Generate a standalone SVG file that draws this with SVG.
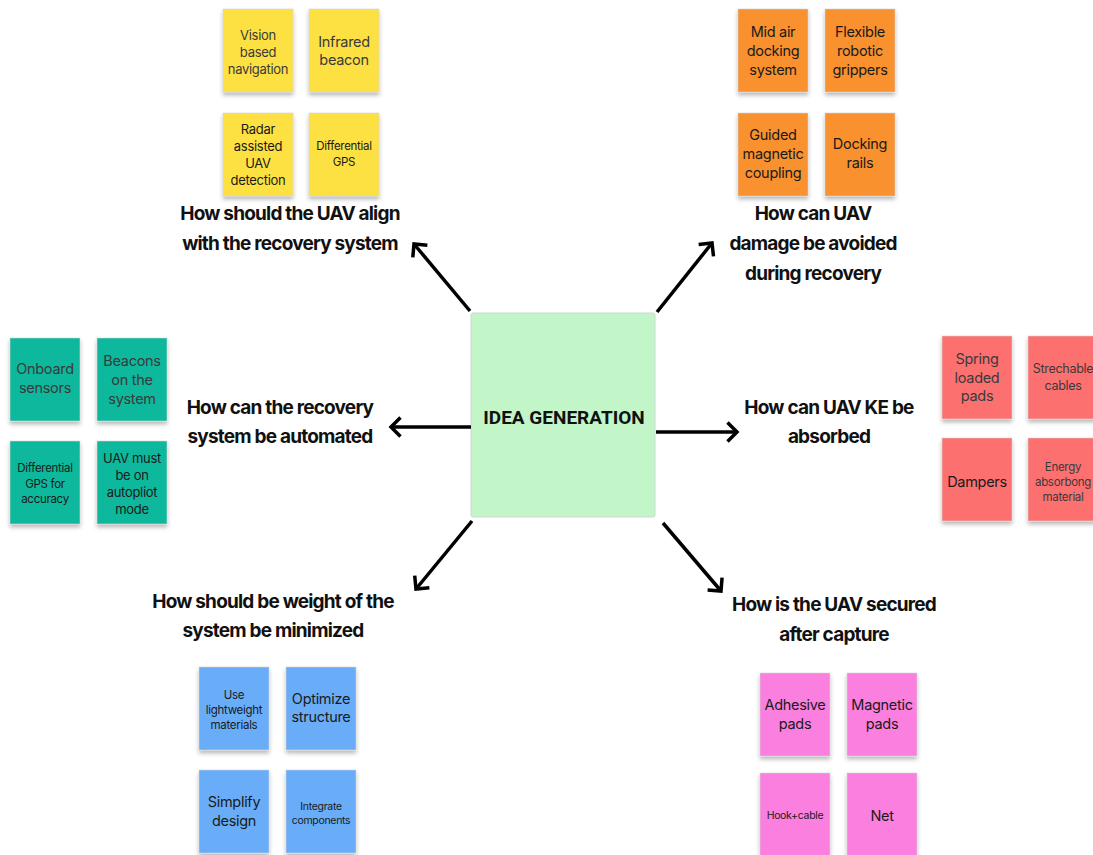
<svg xmlns="http://www.w3.org/2000/svg" width="1093" height="855" viewBox="0 0 1093 855">
  <defs>
    <filter id="noteShadow" x="-20%" y="-20%" width="140%" height="150%">
      <feDropShadow dx="0" dy="3" stdDeviation="2" flood-color="#000" flood-opacity="0.28"/>
    </filter>
    <marker id="chevron" markerUnits="userSpaceOnUse" markerWidth="30" markerHeight="30" refX="0" refY="0" orient="auto" overflow="visible">
      <path d="M-9.5,-9.5 L0,0 L-9.5,9.5" fill="none" stroke="#000" stroke-width="3.5" stroke-linejoin="miter"/>
    </marker>
    <style>
      .note { stroke: #d4d4d4; stroke-width: 0.6; filter: url(#noteShadow); }
      .yellow { fill: #fde143; }
      .orange { fill: #f8912f; }
      .teal { fill: #0bb89c; }
      .red { fill: #fd6f6f; }
      .blue { fill: #69adf9; }
      .pink { fill: #fb7fde; }
      .nt { font-family: Inter, "Liberation Sans", sans-serif; text-anchor: middle; fill: #1a1a1a; letter-spacing: -0.3px; }
      .dim { fill: #3a3a3a; }
      .q { font-family: Inter, "Liberation Sans", sans-serif; font-weight: 700; font-size: 19px; letter-spacing: -0.8px; text-anchor: middle; fill: #111; }
      .conn { fill: none; stroke: #000; stroke-width: 3.5; marker-end: url(#chevron); }
    </style>
  </defs>

  <rect width="1093" height="855" fill="#ffffff"/>

  <!-- central node -->
  <g id="idea-generation">
    <rect x="471" y="313" width="184" height="204" rx="2" fill="#c2f5c8" stroke="#cfd8d0" stroke-width="1"/>
    <text x="564" y="424" font-family="Roboto, 'Liberation Sans', sans-serif" font-weight="700" font-size="19" text-anchor="middle" fill="#111">IDEA GENERATION</text>
  </g>

  <!-- connectors -->
  <g id="connectors">
    <path class="conn" d="M470,311 L414,244"/>
    <path class="conn" d="M657,312 L712,243"/>
    <path class="conn" d="M471,427 L391,427"/>
    <path class="conn" d="M656,432 L737,432"/>
    <path class="conn" d="M472,521 L416,589"/>
    <path class="conn" d="M663,523 L721,591"/>
  </g>

  <!-- alignment branch -->
  <g id="q-align">
    <text class="q" x="290" y="220">How should the UAV align</text>
    <text class="q" x="290" y="250">with the recovery system</text>
  </g>
  <g id="n-vision">
    <rect class="note yellow" x="223" y="9" width="70" height="83"/>
    <text class="nt dim" x="258" font-size="13"><tspan x="258" y="40">Vision</tspan><tspan x="258" y="57">based</tspan><tspan x="258" y="74">navigation</tspan></text>
  </g>
  <g id="n-infrared">
    <rect class="note yellow" x="309" y="9" width="70" height="83"/>
    <text class="nt dim" x="344" font-size="14.5"><tspan x="344" y="47">Infrared</tspan><tspan x="344" y="65">beacon</tspan></text>
  </g>
  <g id="n-radar">
    <rect class="note yellow" x="223" y="113" width="70" height="83"/>
    <text class="nt" x="258" font-size="13"><tspan x="258" y="134">Radar</tspan><tspan x="258" y="151">assisted</tspan><tspan x="258" y="168">UAV</tspan><tspan x="258" y="185">detection</tspan></text>
  </g>
  <g id="n-dgps">
    <rect class="note yellow" x="309" y="113" width="70" height="83"/>
    <text class="nt" x="344" font-size="11.5"><tspan x="344" y="150">Differential</tspan><tspan x="344" y="166">GPS</tspan></text>
  </g>

  <!-- damage branch -->
  <g id="q-damage">
    <text class="q" x="813" y="220">How can UAV</text>
    <text class="q" x="813" y="250">damage be avoided</text>
    <text class="q" x="813" y="280">during recovery</text>
  </g>
  <g id="n-midair">
    <rect class="note orange" x="738" y="9" width="70" height="83"/>
    <text class="nt" x="773" font-size="14.5"><tspan x="773" y="37">Mid air</tspan><tspan x="773" y="56">docking</tspan><tspan x="773" y="75">system</tspan></text>
  </g>
  <g id="n-grippers">
    <rect class="note orange" x="825" y="9" width="70" height="83"/>
    <text class="nt" x="860" font-size="14.5"><tspan x="860" y="37">Flexible</tspan><tspan x="860" y="56">robotic</tspan><tspan x="860" y="75">grippers</tspan></text>
  </g>
  <g id="n-magnetic-coupling">
    <rect class="note orange" x="738" y="113" width="70" height="83"/>
    <text class="nt" x="773" font-size="14.5"><tspan x="773" y="140">Guided</tspan><tspan x="773" y="159">magnetic</tspan><tspan x="773" y="178">coupling</tspan></text>
  </g>
  <g id="n-rails">
    <rect class="note orange" x="825" y="113" width="70" height="83"/>
    <text class="nt" x="860" font-size="14.5"><tspan x="860" y="149">Docking</tspan><tspan x="860" y="168">rails</tspan></text>
  </g>

  <!-- automation branch -->
  <g id="q-automation">
    <text class="q" x="280" y="414">How can the recovery</text>
    <text class="q" x="280" y="443">system be automated</text>
  </g>
  <g id="n-onboard">
    <rect class="note teal" x="10" y="338" width="70" height="83"/>
    <text class="nt dim" x="45" font-size="14.5"><tspan x="45" y="374">Onboard</tspan><tspan x="45" y="393">sensors</tspan></text>
  </g>
  <g id="n-beacons">
    <rect class="note teal" x="97" y="338" width="70" height="83"/>
    <text class="nt dim" x="132" font-size="14.5"><tspan x="132" y="366">Beacons</tspan><tspan x="132" y="385">on the</tspan><tspan x="132" y="404">system</tspan></text>
  </g>
  <g id="n-dgps-accuracy">
    <rect class="note teal" x="10" y="441" width="70" height="83"/>
    <text class="nt" x="45" font-size="11.5"><tspan x="45" y="472">Differential</tspan><tspan x="45" y="488">GPS for</tspan><tspan x="45" y="503">accuracy</tspan></text>
  </g>
  <g id="n-autopilot">
    <rect class="note teal" x="97" y="441" width="70" height="83"/>
    <text class="nt" x="132" font-size="13"><tspan x="132" y="463">UAV must</tspan><tspan x="132" y="480">be on</tspan><tspan x="132" y="497">autopliot</tspan><tspan x="132" y="514">mode</tspan></text>
  </g>

  <!-- energy absorption branch -->
  <g id="q-energy">
    <text class="q" x="829" y="414">How can UAV KE be</text>
    <text class="q" x="829" y="443">absorbed</text>
  </g>
  <g id="n-spring">
    <rect class="note red" x="942" y="336" width="70" height="83"/>
    <text class="nt dim" x="977" font-size="14.5"><tspan x="977" y="364">Spring</tspan><tspan x="977" y="383">loaded</tspan><tspan x="977" y="401">pads</tspan></text>
  </g>
  <g id="n-cables">
    <rect class="note red" x="1028" y="336" width="70" height="83"/>
    <text class="nt dim" x="1063" font-size="12.5"><tspan x="1063" y="373">Strechable</tspan><tspan x="1063" y="390">cables</tspan></text>
  </g>
  <g id="n-dampers">
    <rect class="note red" x="942" y="438" width="70" height="83"/>
    <text class="nt" x="977" font-size="14.5"><tspan x="977" y="487">Dampers</tspan></text>
  </g>
  <g id="n-absorbing">
    <rect class="note red" x="1028" y="438" width="70" height="83"/>
    <text class="nt dim" x="1063" font-size="11.5"><tspan x="1063" y="471">Energy</tspan><tspan x="1063" y="486">absorbong</tspan><tspan x="1063" y="501">material</tspan></text>
  </g>

  <!-- weight branch -->
  <g id="q-weight">
    <text class="q" x="273" y="608">How should be weight of the</text>
    <text class="q" x="273" y="637">system be minimized</text>
  </g>
  <g id="n-lightweight">
    <rect class="note blue" x="199" y="667" width="70" height="83"/>
    <text class="nt" x="234" font-size="11.5"><tspan x="234" y="699">Use</tspan><tspan x="234" y="714">lightweight</tspan><tspan x="234" y="729">materials</tspan></text>
  </g>
  <g id="n-optimize">
    <rect class="note blue" x="286" y="667" width="70" height="83"/>
    <text class="nt" x="321" font-size="14.5"><tspan x="321" y="704">Optimize</tspan><tspan x="321" y="722">structure</tspan></text>
  </g>
  <g id="n-simplify">
    <rect class="note blue" x="199" y="770" width="70" height="83"/>
    <text class="nt" x="234" font-size="14.5"><tspan x="234" y="807">Simplify</tspan><tspan x="234" y="826">design</tspan></text>
  </g>
  <g id="n-integrate">
    <rect class="note blue" x="286" y="770" width="70" height="83"/>
    <text class="nt" x="321" font-size="10.5"><tspan x="321" y="810">Integrate</tspan><tspan x="321" y="824">components</tspan></text>
  </g>

  <!-- securing branch -->
  <g id="q-secure">
    <text class="q" x="834" y="611">How is the UAV secured</text>
    <text class="q" x="834" y="641">after capture</text>
  </g>
  <g id="n-adhesive">
    <rect class="note pink" x="760" y="673" width="70" height="83"/>
    <text class="nt" x="795" font-size="14.5"><tspan x="795" y="710">Adhesive</tspan><tspan x="795" y="729">pads</tspan></text>
  </g>
  <g id="n-magnetic-pads">
    <rect class="note pink" x="847" y="673" width="70" height="83"/>
    <text class="nt" x="882" font-size="14.5"><tspan x="882" y="710">Magnetic</tspan><tspan x="882" y="729">pads</tspan></text>
  </g>
  <g id="n-hook">
    <rect class="note pink" x="760" y="773" width="70" height="83"/>
    <text class="nt" x="795" font-size="10.5"><tspan x="795" y="819">Hook+cable</tspan></text>
  </g>
  <g id="n-net">
    <rect class="note pink" x="847" y="773" width="70" height="83"/>
    <text class="nt" x="882" font-size="14.5"><tspan x="882" y="821">Net</tspan></text>
  </g>
</svg>
